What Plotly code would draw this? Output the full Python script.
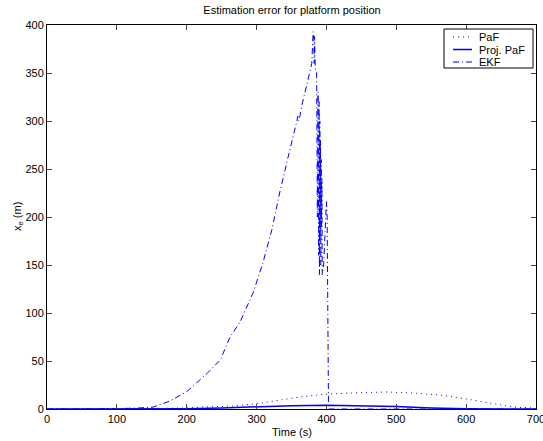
import plotly.graph_objects as go

# EKF estimation error
ekf_t = [0, 50, 100, 130, 152, 175, 200, 229, 248, 262, 276, 295, 309, 322, 333, 345, 355,
         357, 359, 360, 362, 365, 372, 379, 381, 382, 382.5, 383, 384, 386, 387, 388, 389,
         389.5, 390, 390.5, 391, 391.5, 392, 392.5, 393, 393.5, 394, 396, 398, 400, 401,
         402, 403, 450, 500, 600, 700]
ekf_e = [0, 0, 0.3, 1, 2, 8, 18, 37, 51, 75, 90, 121, 152, 187, 225, 262, 290,
         298, 305, 300, 305, 317, 338, 360, 393, 385, 360, 388, 355, 350, 200, 330, 160,
         320, 140, 300, 180, 280, 150, 260, 190, 240, 140, 150, 190, 216, 200,
         0, 0, 0, 0, 0, 0]

# PaF estimation error
paf_t = [0, 100, 200, 219, 266, 305, 362, 401, 448, 487, 524, 563, 601, 639, 667, 696, 700]
paf_e = [0, 0, 1, 2, 3, 6, 12.5, 15.6, 17, 17.7, 16.6, 14.6, 10.4, 6, 2, 1, 0]

# Projected PaF estimation error
proj_t = [0, 100, 200, 250, 300, 350, 400, 450, 500, 550, 600, 700]
proj_e = [0, 0, 0.3, 1, 2.5, 3.5, 4, 3.5, 2.5, 1, 0.3, 0]

x_ticks = [0, 100, 200, 300, 400, 500, 600, 700]
y_ticks = [0, 50, 100, 150, 200, 250, 300, 350, 400]

series_names = ["PaF", "Proj. PaF", "EKF"]
DOT = "1px,4px"
DASHDOT = "6px,3px,1px,3px"
styles = [DOT, "solid", DASHDOT]
widths = [1, 1.5, 1]
BLUE = "#0000ff"

W, H = 543, 441
L, R, T, B = 47, 7, 25, 32
PW, PH = W - L - R, H - T - B


def px_x(p):
    return (p - L) / PW


def px_y(p):
    return (H - B - p) / PH


fig = go.Figure()
for t, e, name, dash, w in zip([paf_t, proj_t, ekf_t], [paf_e, proj_e, ekf_e],
                               series_names, styles, widths):
    fig.add_trace(go.Scatter(x=t, y=e, mode="lines", name=name, showlegend=False,
                             hoverinfo="skip",
                             line=dict(color=BLUE, width=w, dash=dash)))

font = dict(family="Liberation Sans, Arial, sans-serif", size=11, color="black")

shapes = [dict(type="rect", xref="paper", yref="paper",
               x0=px_x(444), x1=px_x(533), y0=px_y(68), y1=px_y(29),
               line=dict(color="black", width=1), fillcolor="white", layer="above")]
annotations = []
for i, (name, dash, w) in enumerate(zip(series_names, styles, widths)):
    yy = px_y(37 + i * 12.5)
    shapes.append(dict(type="line", xref="paper", yref="paper",
                       x0=px_x(453), x1=px_x(472), y0=yy, y1=yy,
                       line=dict(color=BLUE, width=w, dash=dash), layer="above"))
    annotations.append(dict(text=name, xref="paper", yref="paper", x=px_x(477), y=yy,
                            xanchor="left", yanchor="middle", showarrow=False,
                            font=dict(size=11)))

annotations.append(dict(text="Time (s)", xref="paper", yref="paper", x=0.5, y=px_y(432),
                        xanchor="center", yanchor="middle", showarrow=False,
                        font=dict(size=11)))
annotations.append(dict(text="x<sub>e</sub> (m)", xref="paper", yref="paper",
                        x=px_x(18), y=px_y(217), xanchor="center", yanchor="middle",
                        textangle=-90, showarrow=False, font=dict(size=11)))

fig.update_layout(
    width=W, height=H,
    margin=dict(l=L, r=R, t=T, b=B),
    paper_bgcolor="white", plot_bgcolor="white",
    font=font,
    title=dict(text="Estimation error for platform position", x=px_x(292), xanchor="center",
               xref="paper", y=1 - 10 / H, yanchor="middle", font=dict(size=11)),
    showlegend=False,
    hovermode=False,
    shapes=shapes,
    annotations=annotations,
)
fig.update_xaxes(range=[0, 700], tickvals=x_ticks, ticks="inside", ticklen=5,
                 showline=True, linecolor="black", linewidth=1, mirror="ticks",
                 showgrid=False, zeroline=False, automargin=False,
                 ticklabeloverflow="allow")
fig.update_yaxes(range=[0, 400], tickvals=y_ticks, ticks="inside", ticklen=5,
                 showline=True, linecolor="black", linewidth=1, mirror="ticks",
                 showgrid=False, zeroline=False, automargin=False,
                 ticklabeloverflow="allow")

fig.write_html("out.html", config={"displayModeBar": False},
               post_script="document.body.style.margin='0';")
